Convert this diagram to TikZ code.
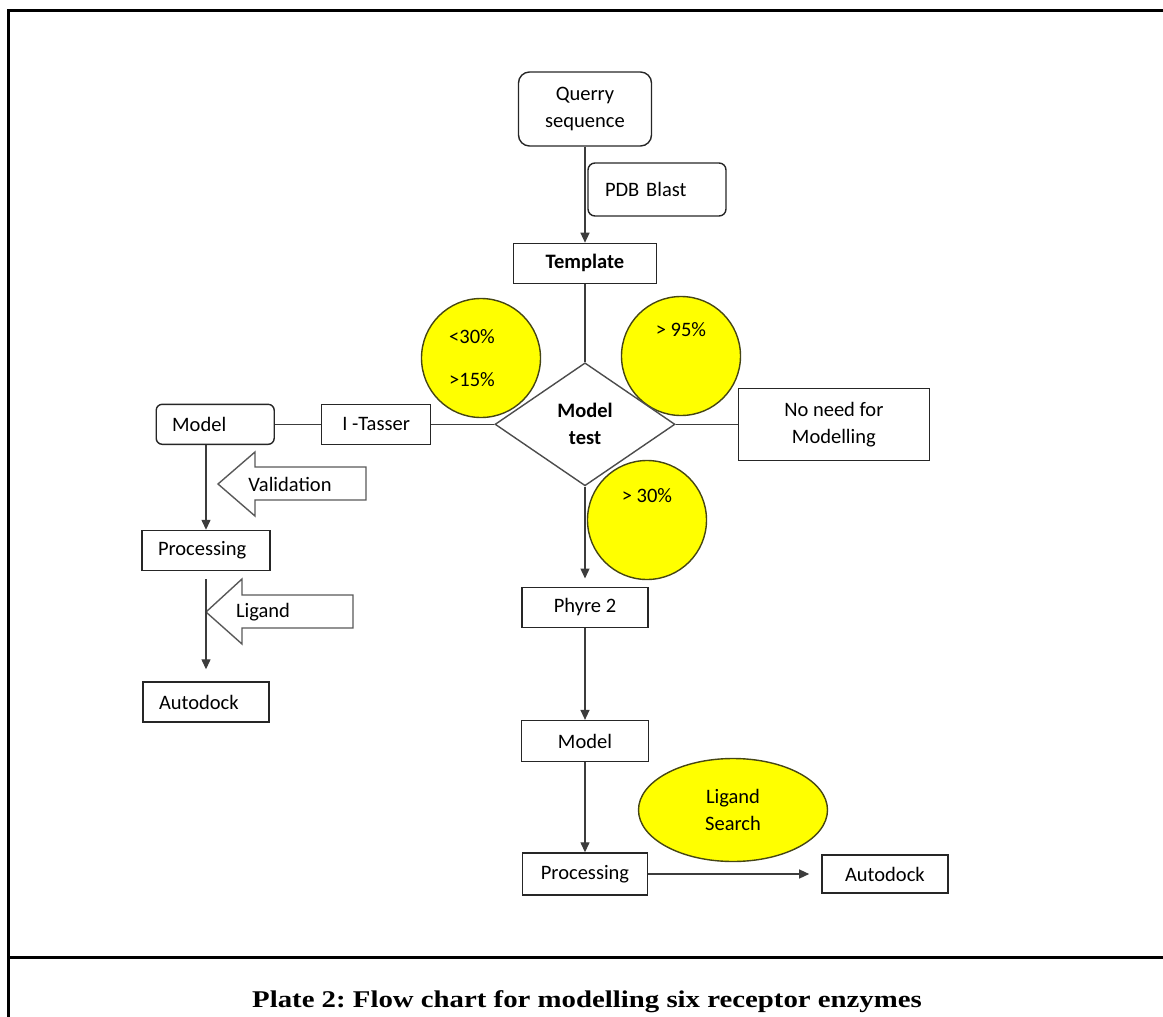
\documentclass[tikz,border=0pt]{standalone}
\usepackage{fontspec}
\setmainfont{Carlito}
\newfontfamily\captionfont{Liberation Serif}
\usetikzlibrary{arrows.meta,positioning,shapes.geometric}
\frenchspacing
\newcommand{\chartfont}{\fontsize{20.5}{27}\selectfont}
\definecolor{chartyellow}{RGB}{255,255,0}
\definecolor{circleedge}{RGB}{70,70,20}
\definecolor{edgegray}{RGB}{60,60,60}
\tikzstyle{box} = [rectangle, draw=black!85, line width=1.4pt, minimum height=40pt, inner sep=0pt, align=center]
\tikzstyle{rbox} = [box, rounded corners=7pt]
\tikzstyle{lbox} = [box, align=left, inner xsep=16pt]
\tikzstyle{decision} = [diamond, draw=black!70, fill=white, line width=1.4pt, minimum width=180pt, minimum height=123pt, inner sep=0pt, align=center, font=\chartfont\bfseries]
\tikzstyle{pct} = [circle, draw=circleedge, line width=1.4pt, fill=chartyellow, minimum size=119pt, inner sep=0pt]
\tikzstyle{search} = [ellipse, draw=circleedge, line width=1.4pt, fill=chartyellow, minimum width=189pt, minimum height=103pt, inner sep=0pt, align=center]
\tikzstyle{flow} = [draw=edgegray, line width=1.3pt]
\tikzstyle{blockarrow} = [draw=black!65, line width=1.4pt, fill=white]

\begin{document}
\begin{tikzpicture}[x=1pt, y=1pt, >={Triangle[length=10pt,width=9pt]},
    every node/.style={font=\chartfont}]
  \useasboundingbox (0,0) rectangle (1163,-1017);
  % frame
  \draw[line width=3pt] (8,-1017) -- (8,-10) -- (1163,-10);
  \draw[line width=3pt] (8,-957) -- (1163,-957);

  % percentage circles
  \node[pct, align=center] (low) at (481,-358) {<30\%\hspace*{18pt}\\[16pt]>15\%\hspace*{18pt}};
  \node[pct, text height=13pt, text depth=52pt] (high) at (681,-356) {> 95\%\hspace{16pt}};
  \node[pct, text height=13pt, text depth=48pt] (mid) at (647,-520) {> 30\%\hspace{18pt}};

  % main column
  \node[rbox, rounded corners=11pt, minimum width=133pt, minimum height=74pt] (query) at (585,-109) {Querry\\sequence};
  \node[rbox, minimum height=53pt, text width=104pt, align=left, inner xsep=17pt] (blast) at (657,-189.5) {PDB Blast};
  \node[box, minimum width=143pt, font=\chartfont\bfseries, below=96pt of query] (template) {Template};
  \node[decision, below=78pt of template] (test) {Model\\test};
  \node[box, minimum width=191pt, minimum height=72pt, right=62pt of test] (nomodel) {No need for\\Modelling};
  \node[box, minimum width=126pt, below=100pt of test] (phyre) {Phyre 2};
  \node[box, minimum width=127pt, minimum height=41pt, below=92pt of phyre] (modelR) {Model};
  \node[box, minimum width=125pt, minimum height=42pt, below=90pt of modelR] (procR) {Processing};
  \node[box, minimum width=126pt, minimum height=38pt, right=173pt of procR] (autoR) {Autodock};
  \node[search] (ligsearch) at (733,-810) {Ligand\\Search};

  % left column
  \node[box, minimum width=109pt, left=63pt of test] (itasser) {I -Tasser};
  \node[lbox, rounded corners=6pt, text width=86pt, left=46pt of itasser] (modelL) {Model};
  \node[lbox, text width=96pt] (procL) at (206,-550.5) {Processing};
  \node[lbox, text width=94pt] (autoL) at (206,-702) {Autodock};

  % block arrows
  \draw[blockarrow] (218,-484) -- (255,-452) -- (255,-467) -- (366,-467) -- (366,-500) -- (255,-500) -- (255,-516) -- cycle;
  \node (valid) at (290,-484) {Validation};
  \draw[blockarrow] (206,-612) -- (242,-579) -- (242,-595) -- (353,-595) -- (353,-628) -- (242,-628) -- (242,-644) -- cycle;
  \node (ligand) at (263,-612) {Ligand};

  % connectors
  \draw[flow, ->] (query) -- (template);
  \draw[flow] (template) -- (test);
  \draw[flow] (test) -- (nomodel);
  \draw[flow] (test) -- (itasser);
  \draw[flow] (itasser) -- (modelL);
  \draw[flow, ->, shorten >=8pt] (test) -- (phyre);
  \draw[flow, ->] (phyre) -- (modelR);
  \draw[flow, ->] (modelR) -- (procR);
  \draw[flow, ->, shorten >=12pt] (procR) -- (autoR);
  \draw[flow, ->] (modelL.south -| procL) -- (procL);
  \draw[flow, ->, shorten <=8pt, shorten >=12pt] (procL) -- (autoL);

  % caption
  \node[font=\captionfont\bfseries\fontsize{24}{28}\selectfont, anchor=base] (caption) at (587,-1007) {\scalebox{1.2}[1]{Plate 2: Flow chart for modelling six receptor enzymes}};
\end{tikzpicture}
\end{document}
